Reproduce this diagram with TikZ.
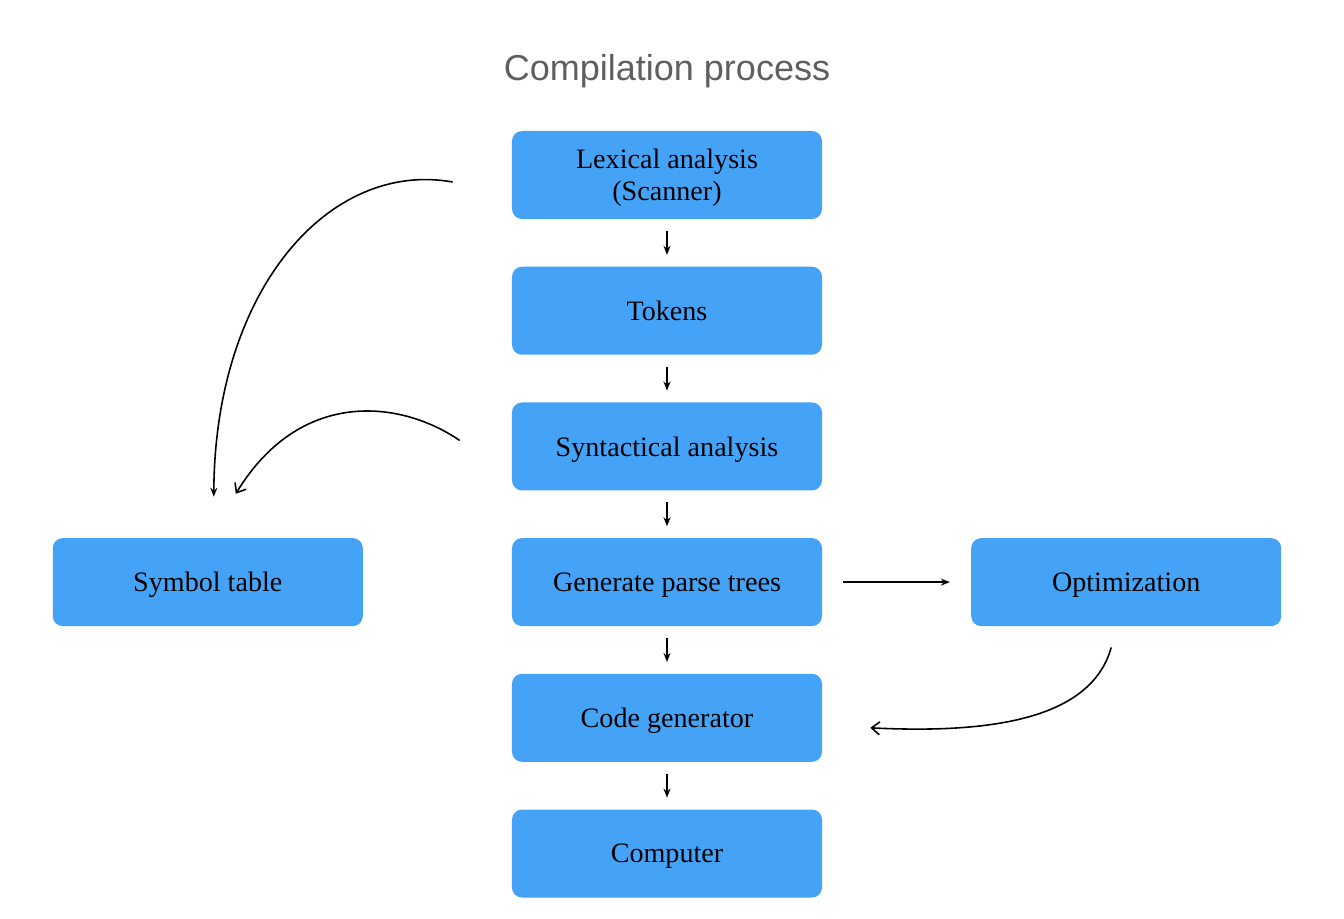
\documentclass[tikz,border=0pt]{standalone}
\usepackage{fontspec}
\setmainfont{Liberation Serif}
\newfontfamily\titlefont{Liberation Sans}
\usetikzlibrary{arrows.meta,positioning}
\definecolor{boxblue}{HTML}{44A3F7}
\definecolor{titlegray}{HTML}{5F5F5F}

\begin{document}
\begin{tikzpicture}[
            mybox/.style={
            rectangle,
            rounded corners=0.2cm,
            draw=none,
            fill=boxblue,
            align=center,
            inner sep=2pt,
            text depth=0pt,
            minimum width=6.2cm,
            minimum height=1.76cm,
            font=\fontsize{16}{18.2}\selectfont},
        myarrow/.style={-{Stealth[length=0.18cm,width=0.14cm]},line width=0.9pt},
        curvearrow/.style={-{Straight Barb[length=0.16cm,width=0.26cm]},line width=0.9pt},
        node distance=0.94cm and 2.97cm
        ]
        \useasboundingbox (-13.34,3.5) rectangle (13.54,-14.86);
        \node[font=\titlefont\fontsize{20.5}{24}\selectfont,text=titlegray] (title) at (0,2.08) {Compilation process};
        \node[mybox] (lex) at (0,0) {Lexical analysis\\(Scanner)};
        \node[mybox,below=of lex] (tok) {Tokens};
        \node[mybox,below=of tok] (syn) {Syntactical analysis};
        \node[mybox,below=of syn] (gen) {Generate parse trees};
        \node[mybox,below=of gen] (cg) {Code generator};
        \node[mybox,below=of cg] (comp) {Computer};
        \node[mybox,left=of gen] (sym) {Symbol table};
        \node[mybox,right=of gen] (opt) {Optimization};

        \foreach \i/\j in {% start node/end node
            lex/tok,
            tok/syn,
            syn/gen,
            gen/cg,
            cg/comp}
            \draw [myarrow,shorten >=0.23cm,shorten <=0.23cm] (\i) -- (\j);
        \draw [myarrow,shorten >=0.42cm,shorten <=0.42cm] (gen) -- (opt);

        % curved links to the side boxes
        \draw [myarrow] ([xshift=-1.18cm,yshift=-0.14cm]lex.west)
            .. controls +(-2.46,0.44) and +(0.02,4.16) .. ([xshift=0.12cm,yshift=0.82cm]sym.north);
        \draw [curvearrow] ([xshift=-1.04cm,yshift=0.12cm]syn.west)
            .. controls +(-1.2,0.82) and +(1.28,2.1) .. ([xshift=0.56cm,yshift=0.88cm]sym.north);
        \draw [curvearrow] ([xshift=-0.3cm,yshift=-0.42cm]opt.south)
            .. controls +(-0.4,-1.44) and +(2.4,-0.12) .. ([xshift=0.96cm,yshift=-0.2cm]cg.east);
\end{tikzpicture}
\end{document}
